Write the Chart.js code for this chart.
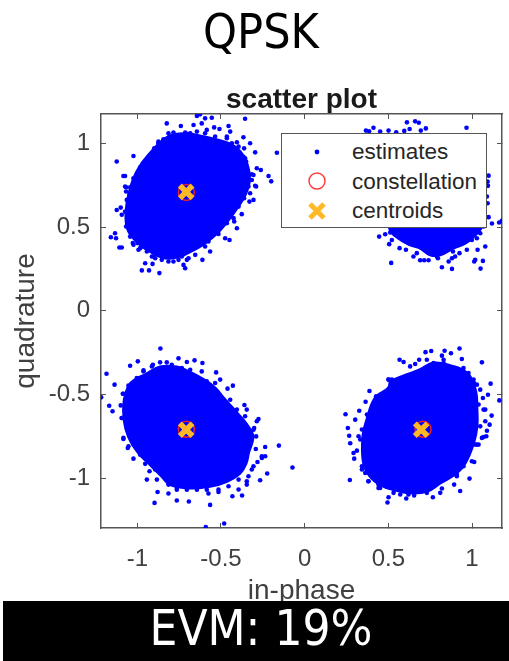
<!DOCTYPE html>
<html>
<head>
<meta charset="utf-8">
<title>QPSK</title>
<script src="https://cdn.jsdelivr.net/npm/chart.js@4/dist/chart.umd.min.js"></script>
<style>
    html, body { margin: 0; padding: 0; background: #fff; }
    #wrap { position: relative; width: 509px; height: 661px; overflow: hidden; }
    canvas { position: absolute; left: 0; top: 0; }
    #heading {
        position: absolute; left: 0; top: 3px; width: 522px; text-align: center;
        font: 48px "DejaVu Sans Condensed", "DejaVu Sans", sans-serif; color: #000;
    }
    #evm {
        position: absolute; left: 3px; top: 601px; width: 506px; height: 60px; background: #000;
        color: #fff; text-align: center; font: 49px/56px "DejaVu Sans Condensed", "DejaVu Sans", sans-serif;
        text-indent: 10px;
    }
    #legend {
        position: absolute; left: 281px; top: 133px; width: 204px; height: 93px; background: #fff;
        border: 1.5px solid #555; font: 22.5px "Liberation Sans", Arial, sans-serif; color: #262626;
    }
    #legend div { position: absolute; left: 70px; line-height: 30px; height: 30px; white-space: nowrap; }
    #legend svg { position: absolute; left: 0; top: 0; }
</style>
</head>
<body>
<div id="wrap">
    <canvas id="scatterChart" width="509" height="661"></canvas>
    <div id="heading">QPSK</div>
    <div id="legend">
        <svg width="80" height="93">
            <circle cx="35" cy="18" r="2.4" fill="#0000ff"></circle>
            <circle cx="35" cy="47" r="8" fill="none" stroke="#ff3b3b" stroke-width="1.5"></circle>
            <path d="M28 70 L42 84 M42 70 L28 84" stroke="#ffb926" stroke-width="5" fill="none"></path>
        </svg>
        <div style="top:3px">estimates</div>
        <div style="top:33px">constellation</div>
        <div style="top:62px">centroids</div>
    </div>
    <div id="evm">EVM: 19%</div>
</div>
<script>
const titleText = 'scatter plot';
const xLabel = 'in-phase';
const yLabel = 'quadrature';
const xRange = [-1.217, 1.179];
const yRange = [-1.297, 1.175];
const xTicks = [-1, -0.5, 0, 0.5, 1];
const yTicks = [-1, -0.5, 0, 0.5, 1];

// the middle of each cloud is solid blue, so it is kept as an outline
const denseTopLeft = [[-.704,1.06],[-.605,1.04],[-.455,1.0],[-.385,.95],[-.346,.881],[-.33,.781],[-.356,.692],[-.405,.612],[-.455,.543],[-.535,.453],[-.644,.374],[-.804,.314],[-.923,.354],[-1.013,.423],[-1.059,.493],[-1.067,.592],[-1.047,.712],[-1.003,.831],[-.933,.93],[-.814,1.04],[-.704,1.06]];
const denseTopRight = [[.59,.98],[.79,1.04],[.989,.98],[1.069,.781],[1.069,.543],[1.053,.493],[1.009,.443],[.959,.404],[.889,.374],[.81,.334],[.75,.334],[.69,.374],[.63,.394],[.561,.433],[.511,.483],[.501,.582],[.531,.781],[.59,.98]];
const denseBottomLeft = [[-.953,-.382],[-.864,-.336],[-.764,-.336],[-.684,-.368],[-.605,-.411],[-.535,-.461],[-.485,-.521],[-.405,-.61],[-.346,-.68],[-.31,-.75],[-.336,-.849],[-.35,-.909],[-.385,-.968],[-.465,-1.018],[-.565,-1.048],[-.684,-1.058],[-.804,-1.038],[-.854,-.988],[-.933,-.909],[-.993,-.849],[-1.053,-.75],[-1.079,-.65],[-1.079,-.541],[-1.053,-.451],[-1.013,-.411],[-.953,-.382]];
const denseBottomRight = [[.511,-.421],[.611,-.382],[.69,-.352],[.77,-.312],[.869,-.328],[.969,-.372],[1.019,-.471],[1.029,-.59],[1.029,-.69],[1.009,-.789],[.959,-.909],[.909,-.968],[.81,-1.028],[.73,-1.078],[.63,-1.087],[.531,-1.068],[.451,-1.038],[.391,-.988],[.352,-.909],[.348,-.75],[.372,-.65],[.421,-.521],[.501,-.461],[.511,-.421]];

// estimates along the rough rim of each cloud
const rimTopLeft = [[-.983,.857],[-.967,.871],[-.943,.891],[-.919,.924],[-.899,.97],[-.874,1.0],[-1.023,.791],[-1.013,.761],[-1.043,.738],[-1.067,.738],[-1.047,.692],[-1.063,.662],[-1.039,.632],[-1.073,.592],[-1.059,.533],[-1.067,.503],[-1.033,.453],[-1.027,.404],[-.999,.404],[-.983,.374],[-.963,.384],[-.913,.324],[-.893,.314],[-.874,.334],[-.804,.344],[-.764,.354],[-.366,.92],[-.35,.891],[-.316,.815],[-.316,.781],[-.296,.746],[-.336,.742],[-.362,.672],[-.33,.652],[-.395,.622],[-.425,.553],[-.421,.533],[-.465,.523],[-.515,.459],[-.575,.414],[-.595,.384],[-.644,.394],[-.694,.314],[-.754,.304],[-.734,.324],[-.744,1.05],[-.714,1.064],[-.684,1.06],[-.644,1.07],[-.595,1.06],[-.535,1.04],[-.465,1.04],[-.435,1.0],[-.395,.98],[-.362,.97]];
const rimTopRight = [[.541,.463],[.581,.433],[.62,.404],[.67,.394],[.71,.384],[.77,.344],[.79,.324],[.83,.354],[.86,.374],[.909,.404],[.959,.414],[.989,.443],[1.039,.473],[1.069,.503]];
const rimBottomLeft = [[-.286,-.66],[-.306,-.71],[-.29,-.75],[-.326,-.74],[-.256,-.869],[-.306,-.928],[-.316,-.948],[-.336,-.988],[-.346,-1.038],[-.395,-1.008],[-.455,-1.048],[-.515,-1.068],[-.585,-1.068],[-.644,-1.068],[-.704,-1.068],[-.764,-1.058],[-.814,-1.038],[-.893,-.948],[-.953,-.879],[-.983,-.859],[-1.023,-.799],[-1.053,-.809],[-1.083,-.759],[-1.093,-.64],[-1.043,-.64],[-1.073,-.531],[-1.087,-.495],[-1.063,-.511],[-1.023,-.441],[-.963,-.362],[-.913,-.332],[-.864,-.308],[-.794,-.322],[-.734,-.342],[-.684,-.352],[-.615,-.362],[-.585,-.421],[-.535,-.431],[-.515,-.521],[-.445,-.531],[-.405,-.59],[-.356,-.63]];
const rimBottomRight = [[.501,-.411],[.521,-.411],[.507,-.461],[.427,-.511],[.451,-.501],[.471,-.501],[.421,-.56],[.372,-.62],[.342,-.709],[.322,-.749],[.332,-.769],[.352,-.849],[.342,-.928],[.362,-.968],[.381,-1.018],[.441,-1.038],[.451,-1.058],[.531,-1.087],[.571,-1.097],[.62,-1.097],[.68,-1.078],[.73,-1.087],[.74,-1.064],[.85,-.998],[.879,-.968],[.909,-.988],[.949,-.928],[.999,-.898],[.969,-.859],[1.019,-.799],[1.039,-.799],[1.059,-.759],[1.085,-.749],[1.049,-.69],[1.079,-.66],[1.069,-.59],[1.039,-.56],[1.049,-.471],[1.029,-.441],[1.009,-.411],[.979,-.392],[.949,-.342],[.879,-.342],[.83,-.312],[.77,-.312],[.74,-.332],[.69,-.362],[.63,-.332],[.611,-.392]];

// stray estimates
const strayTopLeft = [[-.625,1.173],[-.644,1.163],[-.595,1.149],[-.555,1.153],[-.356,1.147],[-.824,1.119],[-.74,1.103],[-.664,1.109],[-.615,1.119],[-.585,1.08],[-.541,1.095],[-.509,1.085],[-.455,1.103],[-.445,1.07],[-.366,1.036],[-.326,1.0],[-.296,.946],[-.166,.944],[-.356,.911],[-.286,.851],[-.262,.841],[-.216,.805],[-.2,.773],[-.306,.811],[-.29,.742],[-.326,.702],[-.306,.662],[-.376,.577],[-.405,.493],[-.449,.423],[-.475,.433],[-.565,.354],[-.611,.304],[-.654,.334],[-.714,.254],[-.724,.274],[-.704,.304],[-.868,.225],[-.93,.241],[-.973,.241],[-.953,.284],[-.909,.28],[-.854,.304],[-1.093,.378],[-1.107,.378],[-1.158,.439],[-1.133,.463],[-1.127,.433],[-1.093,.573],[-1.123,.602],[-1.099,.616],[-1.073,.742],[-1.067,.712],[-1.083,.805],[-1.073,.805],[-1.123,.891],[-1.023,.924],[-.874,1.01],[-.844,1.024],[-.814,1.06],[-.784,1.064],[-.405,1.006],[-.465,1.03],[-1.043,.443],[-1.023,.394],[-.993,.364],[-.943,.354],[-.903,.324],[-.814,.294],[-.784,.294]];
const strayTopRight = [[.366,1.076],[.385,1.072],[.411,1.093],[.451,1.07],[.501,1.076],[.547,1.066],[.595,1.074],[.627,1.085],[.611,1.125],[.66,1.131],[.682,1.123],[.694,1.076],[.724,1.089],[.967,1.093],[1.099,.807],[1.093,.771],[1.095,.746],[1.089,.682],[1.093,.642],[1.099,.559],[1.119,.521],[1.162,.527],[1.178,.537],[.445,.443],[.481,.457],[.511,.467],[.521,.423],[.505,.398],[.567,.374],[.605,.364],[.517,.286],[.65,.324],[.67,.344],[.69,.302],[.714,.302],[.74,.302],[.796,.314],[.82,.26],[.86,.294],[.88,.25],[.88,.314],[.899,.324],[.886,.354],[.925,.344],[.969,.364],[1.019,.304],[1.013,.294],[1.065,.298],[1.051,.252],[1.079,.384],[1.033,.364],[.999,.423],[1.029,.433],[1.049,.463]];
const strayBottomLeft = [[-.862,-.225],[-.997,-.302],[-1.043,-.328],[-1.184,-.376],[-1.136,-.441],[-1.216,-.517],[-1.168,-.567],[-1.148,-.6],[-1.083,-.495],[-1.099,-.565],[-1.093,-.64],[-1.083,-.765],[-1.057,-.819],[-1.023,-.883],[-.953,-.914],[-.927,-.958],[-.943,-1.008],[-.883,-1.008],[-.879,-1.082],[-.814,-1.091],[-.897,-1.147],[-.764,-1.133],[-.692,-1.139],[-.565,-1.159],[-.591,-1.292],[-.481,-1.27],[-.432,-1.107],[-.374,-1.103],[-.515,-1.082],[-.575,-1.091],[-.266,-1.012],[-.224,-.972],[-.073,-.936],[-.154,-.805],[-.236,-.813],[-.236,-.869],[-.256,-.879],[-.282,-.903],[-.292,-.825],[-.276,-.646],[-.302,-.7],[-.346,-.59],[-.36,-.563],[-.429,-.447],[-.461,-.465],[-.505,-.411],[-.529,-.368],[-.611,-.312],[-.658,-.296],[-.704,-.306],[-.754,-.284],[-.824,-.308],[-.907,-.322],[-.963,-.356],[-1.003,-.402],[-1.053,-.447],[-.346,-1.018],[-.395,-1.067],[-.764,-1.068]];
const strayBottomRight = [[.925,-.225],[.756,-.24],[.722,-.247],[.836,-.239],[.874,-.254],[.82,-.268],[.83,-.292],[.939,-.288],[1.059,-.308],[.567,-.292],[.591,-.306],[.66,-.318],[.684,-.292],[.73,-.292],[.501,-.411],[.387,-.479],[.364,-.543],[.244,-.618],[.302,-.65],[.326,-.597],[.258,-.7],[.266,-.746],[.272,-.791],[.292,-.849],[.312,-.835],[.296,-.883],[.27,-1.01],[.342,-.948],[.381,-1.018],[.441,-1.058],[.501,-1.113],[.495,-1.145],[.607,-1.121],[.654,-1.103],[.766,-1.113],[.81,-1.087],[.82,-1.061],[.929,-1.076],[.893,-1.038],[.985,-1.002],[.909,-.978],[1.013,-.903],[1.029,-.799],[1.069,-.754],[1.089,-.716],[1.105,-.68],[1.117,-.626],[1.079,-.59],[1.065,-.521],[1.095,-.501],[1.111,-.435],[1.163,-.535],[1.012,-.432],[.983,-.407],[.979,-.372]];

const constellation = [[-.707,.707],[.707,.707],[-.707,-.707],[.707,-.707]];
const centroids = [[-.708,.71],[.7,.7],[-.708,-.71],[.696,-.71]];

const toPoints = list => list.map(p => ({ x: p[0], y: p[1] }));

function denseDataset(list) {
    return {
        data: toPoints(list),
        showLine: true,
        fill: 'shape',
        tension: 0.4,
        backgroundColor: '#0000ff',
        borderColor: '#0000ff',
        borderWidth: 3,
        pointRadius: 0,
        order: 5
    };
}

function axisOptions(position, range, values, size, label, tickPadding) {
    const isX = position === 'bottom' || position === 'top';
    const main = position === 'bottom' || position === 'left';
    return {
        type: 'linear',
        axis: isX ? 'x' : 'y',
        position: position,
        min: range[0],
        max: range[1],
        afterBuildTicks: scale => { scale.ticks = values.map(v => ({ value: v })); },
        afterFit: scale => {
            if (isX) scale.height = size; else scale.width = size;
            // labels may overhang, the plot area must not shrink for them
            scale.paddingLeft = scale.paddingRight = scale.paddingTop = scale.paddingBottom = 0;
        },
        border: { display: true, color: '#555', width: 1.5 },
        grid: { drawOnChartArea: false, drawTicks: true, tickLength: -5, tickColor: '#555', tickWidth: 1 },
        ticks: {
            display: main,
            autoSkip: false,
            maxRotation: 0,
            padding: tickPadding,
            color: '#404040',
            font: { family: 'Liberation Sans', size: 24 },
            callback: v => String(v)
        },
        title: {
            display: main,
            text: label,
            color: '#404040',
            font: { family: 'Liberation Sans', size: 28 },
            padding: 0
        }
    };
}

new Chart(document.getElementById('scatterChart'), {
    type: 'scatter',
    data: {
        datasets: [
            denseDataset(denseTopLeft),
            denseDataset(denseTopRight),
            denseDataset(denseBottomLeft),
            denseDataset(denseBottomRight),
            {
                label: 'estimates',
                data: toPoints(strayTopLeft.concat(strayTopRight, strayBottomLeft, strayBottomRight, rimTopLeft, rimTopRight, rimBottomLeft, rimBottomRight)),
                backgroundColor: '#0000ff',
                borderColor: '#0000ff',
                pointRadius: 2.3,
                pointBorderWidth: 0,
                order: 4
            },
            {
                label: 'constellation',
                data: toPoints(constellation),
                pointStyle: 'circle',
                pointRadius: 8,
                pointBorderWidth: 1.5,
                borderColor: '#e8202a',
                backgroundColor: 'transparent',
                order: 2
            },
            {
                label: 'centroids',
                data: toPoints(centroids),
                pointStyle: 'crossRot',
                pointRadius: 9,
                pointBorderWidth: 5.5,
                borderColor: '#ffb926',
                order: 1
            }
        ]
    },
    options: {
        responsive: false,
        animation: false,
        layout: { autoPadding: false, padding: { top: 86, bottom: 53, right: 7, left: 9 } },
        plugins: {
            legend: { display: false },
            tooltip: { enabled: false },
            title: {
                display: true,
                text: titleText,
                fullSize: false,
                color: '#1a1a1a',
                font: { family: 'Liberation Sans', size: 28, weight: 'bold', lineHeight: 1 },
                padding: { top: 0, bottom: 0 }
            }
        },
        scales: {
            x: axisOptions('bottom', xRange, xTicks, 80, xLabel, 22),
            y: axisOptions('left', yRange, yTicks, 92, yLabel, 16),
            x2: axisOptions('top', xRange, xTicks, 0, '', 0),
            y2: axisOptions('right', yRange, yTicks, 0, '', 0)
        }
    }
});
</script>
</body>
</html>
